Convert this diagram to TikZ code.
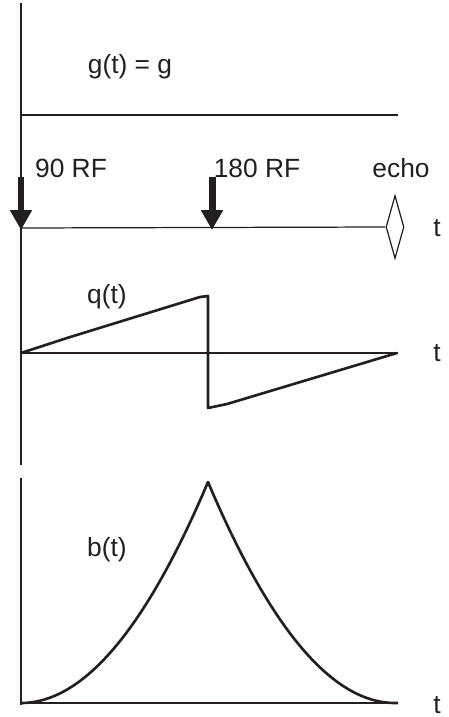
\documentclass[tikz,border=0pt]{standalone}
\usepackage{fontspec}
\setmainfont{Liberation Sans}
\usetikzlibrary{arrows.meta, positioning, shapes.geometric}
\definecolor{inkblack}{HTML}{231F20}

\begin{document}
\begin{tikzpicture}[x=0.02cm, y=-0.02cm,
    lbl/.style={font=\fontsize{15}{17}\selectfont, text=inkblack, inner sep=0pt},
    thinline/.style={line width=0.7pt, inkblack},
    curve/.style={line width=1.5pt, inkblack, line join=round},
    pulse/.style={-{Triangle[length=0.4cm, width=0.42cm]}, line width=0.14cm, inkblack}]
  \useasboundingbox (0,0) rectangle (449,717);

  % vertical axes
  \coordinate (vtop) at (21,3);
  \coordinate (vmid) at (21,465);
  \coordinate (btop) at (21,478);
  \coordinate (bbot) at (21,705);
  \draw[thinline] (vtop) -- (vmid);
  \draw[thinline] (btop) -- (bbot);

  % gradient
  \node[lbl] (glabel) at (130,67) {g(t) = g};
  \coordinate (gstart) at (21,115);
  \coordinate (gend) at (398,115);
  \draw[line width=1.7pt, inkblack] (gstart) -- (gend);

  % pulse sequence
  \node[draw=inkblack, line width=0.7pt, diamond, inner sep=0pt,
        minimum width=0.36cm, minimum height=1.26cm] (echomark) at (395,227) {};
  \coordinate (seqstart) at (21,228);
  \draw[thinline] (seqstart) -- (echomark.west);
  \foreach \px/\name/\txt/\tx in {21/rf90/{90 RF}/71, 212/rf180/{180 RF}/257}{
    \coordinate (\name top) at (\px,177);
    \coordinate (\name tip) at (\px,230);
    \draw[pulse] (\name top) -- (\name tip);
    \node[lbl] (\name) at (\tx,168) {\txt};
  }
  \node[lbl] (echo) at (401,168) {echo};

  % time labels
  \foreach \yy/\name in {228/tseq, 353/tq, 705/tb}{
    \node[lbl] (\name) at (437,\yy) {t};
  }

  % q(t)
  \coordinate (qstart) at (21,353);
  \coordinate (qend) at (398,353);
  \draw[thinline] (qstart) -- (qend);
  \node[lbl] (qlabel) at (107,297) {q(t)};
  \draw[curve] (qstart) -- (67,338) -- (200,297) -- (208,296) -- (208,408)
    -- (227,404) -- (397,353);

  % b(t)
  \coordinate (bstart) at (21,703);
  \coordinate (bend) at (398,703);
  \draw[thinline] (bstart) -- (bend);
  \node[lbl] (blabel) at (107,550) {b(t)};
  \draw[curve] plot[domain=0:1, samples=40] ({21+187*\x}, {703-221*\x*\x})
    -- plot[domain=1:0, samples=40] ({395-187*\x}, {703-221*\x*\x}) -- (bend);
\end{tikzpicture}
\end{document}
